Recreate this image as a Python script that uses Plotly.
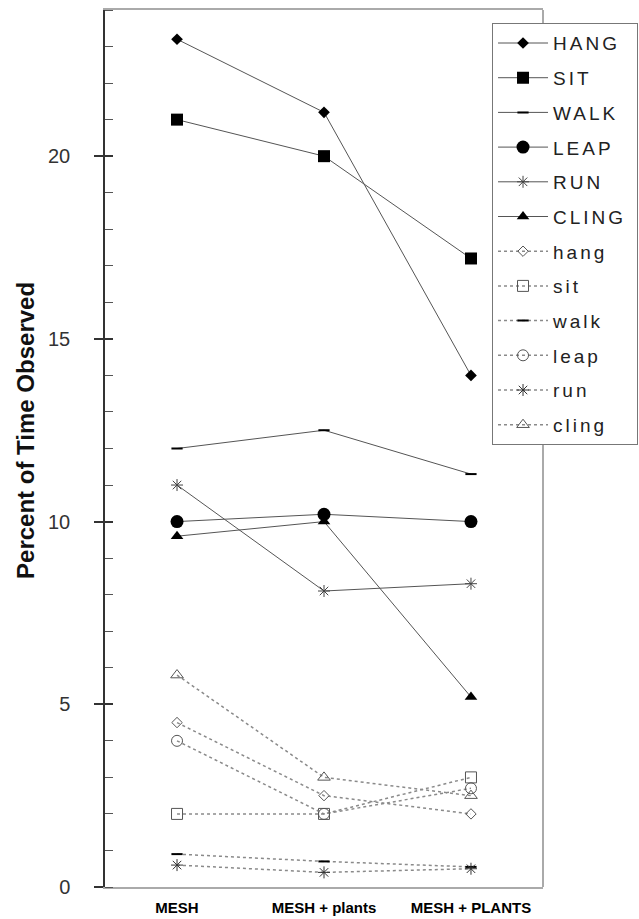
import plotly.graph_objects as go

categories = ["MESH", "MESH + plants", "MESH + PLANTS"]

series_names = ["HANG", "SIT", "WALK", "LEAP", "RUN", "CLING",
                "hang", "sit", "walk", "leap", "run", "cling"]

HANG = [23.2, 21.2, 14.0]
SIT = [21.0, 20.0, 17.2]
WALK = [12.0, 12.5, 11.3]
LEAP = [10.0, 10.2, 10.0]
RUN = [11.0, 8.1, 8.3]
CLING = [9.6, 10.0, 5.2]
hang = [4.5, 2.5, 2.0]
sit = [2.0, 2.0, 3.0]
walk = [0.9, 0.7, 0.55]
leap = [4.0, 2.0, 2.7]
run = [0.6, 0.4, 0.5]
cling = [5.8, 3.0, 2.5]

y_ticks = [0, 5, 10, 15, 20]

values = [HANG, SIT, WALK, LEAP, RUN, CLING, hang, sit, walk, leap, run, cling]

styles = {
    "HANG": dict(symbol="diamond", size=9, color="black", lw=0, dash="solid"),
    "SIT": dict(symbol="square", size=12, color="black", lw=0, dash="solid"),
    "WALK": dict(symbol="line-ew", size=8, color="black", lw=2, dash="solid"),
    "LEAP": dict(symbol="circle", size=13, color="black", lw=0, dash="solid"),
    "RUN": dict(symbol="asterisk-open", size=10, color="#444", lw=1, dash="solid"),
    "CLING": dict(symbol="triangle-up", size=11, color="black", lw=0, dash="solid"),
    "hang": dict(symbol="diamond-open", size=8, color="#555", lw=1, dash="dot"),
    "sit": dict(symbol="square-open", size=11, color="#555", lw=1, dash="dot"),
    "walk": dict(symbol="line-ew", size=8, color="black", lw=2, dash="dot"),
    "leap": dict(symbol="circle-open", size=11, color="#555", lw=1, dash="dot"),
    "run": dict(symbol="asterisk-open", size=10, color="#333", lw=1, dash="dot"),
    "cling": dict(symbol="triangle-up-open", size=11, color="#555", lw=1, dash="dot"),
}

fig = go.Figure()
for name, vals in zip(series_names, values):
    s = styles[name]
    solid = s["dash"] == "solid"
    fig.add_trace(go.Scatter(
        x=categories, y=vals, name=name, mode="lines+markers",
        legendgroup=name,
        line=dict(color="#555" if solid else "#8a8a8a", width=1 if solid else 1.5, dash=s["dash"]),
        marker=dict(symbol=s["symbol"], size=s["size"], color=s["color"],
                    line=dict(color=s["color"], width=s["lw"])),
    ))

# invisible trace for the inside part of major ticks
fig.add_trace(go.Scatter(x=categories, y=[None]*3, yaxis="y2", showlegend=False, hoverinfo="skip"))

fig.update_layout(
    width=639, height=919,
    margin=dict(l=105, r=96, t=10, b=32),
    paper_bgcolor="white", plot_bgcolor="white",
    font=dict(family="Liberation Sans, Arial, sans-serif", color="black"),
    showlegend=True,
    legend=dict(
        x=0.8836, y=0.985, xanchor="left", yanchor="top",
        bgcolor="white", bordercolor="#777", borderwidth=1,
        font=dict(size=19, color="#222"),
        itemwidth=50, traceorder="grouped", tracegroupgap=7,
    ),
    xaxis=dict(
        type="category", range=[-0.49, 2.49], automargin=False,
        showline=True, linecolor="#aaa", linewidth=2, mirror=True,
        showgrid=False, ticks="", zeroline=False,
        tickfont=dict(size=15, family="Liberation Sans, Arial, sans-serif", weight="bold"),
        ticklabelstandoff=6,
    ),
    yaxis=dict(
        range=[0, 24], tickvals=y_ticks, automargin=False,
        showline=True, linecolor="#333", linewidth=1.5,
        showgrid=False, zeroline=False,
        ticks="outside", ticklen=9, tickcolor="#333", tickwidth=1.5,
        tickfont=dict(size=20, color="#333"),
        ticklabelstandoff=20,
        minor=dict(dtick=1, ticks="inside", ticklen=8, tickcolor="#555", tickwidth=1),
    ),
    yaxis2=dict(
        range=[0, 24], overlaying="y", side="left", automargin=False,
        tickvals=y_ticks, showticklabels=False,
        ticks="inside", ticklen=8, tickcolor="#333", tickwidth=1.5,
        showline=False, showgrid=False, zeroline=False,
    ),
    shapes=[dict(type="line", xref="paper", yref="paper", x0=1, x1=1, y0=0, y1=1,
                 line=dict(color="#aaa", width=2))],
    annotations=[dict(
        text="<b>Percent of Time Observed</b>", xref="paper", yref="paper",
        x=-0.183, y=0.521, xanchor="center", yanchor="middle", textangle=-90,
        showarrow=False, font=dict(size=24, color="#111"),
    )],
)

post_js = """
document.body.style.margin='0';
var gd = document.querySelector('.plotly-graph-div');
gd.querySelectorAll('.legendtext').forEach(function(t){ t.style.letterSpacing='3px'; });
var extra = 20;
var bg = gd.querySelector('.legend rect.bg');
if (bg) { bg.setAttribute('width', parseFloat(bg.getAttribute('width')) + extra); }
document.querySelectorAll('clipPath[id^="legend"] rect').forEach(function(r){
  r.setAttribute('width', parseFloat(r.getAttribute('width')) + extra);
});
"""

fig.write_html("out.html", config={"displayModeBar": False}, post_script=post_js)
